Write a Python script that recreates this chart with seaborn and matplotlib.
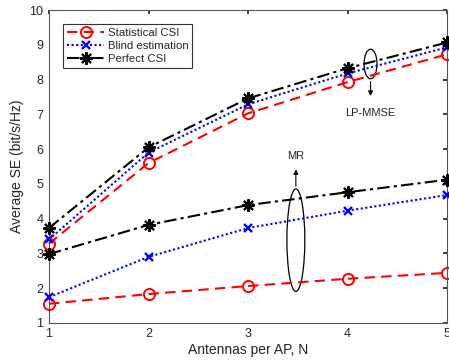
import matplotlib
matplotlib.use("Agg")
import matplotlib.pyplot as plt
import seaborn as sns
import pandas as pd
from matplotlib.patches import Ellipse

sns.set_theme(style="white")
plt.rcParams["font.family"] = ["Liberation Sans", "DejaVu Sans"]

antennas = [1, 2, 3, 4, 5]

# LP-MMSE combining
lp_statistical = [3.28, 5.60, 7.03, 7.93, 8.73]
lp_blind = [3.40, 5.90, 7.29, 8.18, 8.93]
lp_perfect = [3.73, 6.05, 7.46, 8.33, 9.07]

# MR combining
mr_statistical = [1.55, 1.83, 2.06, 2.27, 2.44]
mr_blind = [1.74, 2.90, 3.73, 4.23, 4.68]
mr_perfect = [2.98, 3.82, 4.39, 4.76, 5.12]

labels = ["Statistical CSI", "Blind estimation", "Perfect CSI"]

styles = {
    "Statistical CSI": dict(color="#ff0000", dashes=(5, 3), marker="o",
                            ms=8, mfc="none", mew=1.4),
    "Blind estimation": dict(color="#0000ff", dashes=(1, 1.2), marker="x",
                             ms=6, mfc="#0000ff", mew=1.7),
    "Perfect CSI": dict(color="#000000", dashes=(6, 2, 1.5, 2),
                        marker=(8, 2, 0), ms=9, mfc="#000000", mew=1.5),
}

rows = []
for scheme, vals in [("LP-MMSE", [lp_statistical, lp_blind, lp_perfect]),
                     ("MR", [mr_statistical, mr_blind, mr_perfect])]:
    for lab, series in zip(labels, vals):
        for n, v in zip(antennas, series):
            rows.append(dict(N=n, SE=v, csi=lab, scheme=scheme))
df = pd.DataFrame(rows)

fig = plt.figure(figsize=(4.49, 3.62), dpi=100)
ax = fig.add_axes([0.109, 0.108, 0.887, 0.864])

legend_lines = {}
for scheme in ["LP-MMSE", "MR"]:
    for lab in labels:
        sub = df[(df.scheme == scheme) & (df.csi == lab)]
        st = styles[lab]
        n_before = len(ax.get_lines())
        sns.lineplot(data=sub, x="N", y="SE", ax=ax, color=st["color"],
                     linewidth=1.5, legend=False)
        line = ax.get_lines()[n_before]
        line.set_dashes(st["dashes"])
        line.set_marker(st["marker"])
        line.set_markersize(st["ms"])
        line.set_markerfacecolor(st["mfc"])
        line.set_markeredgecolor(st["color"])
        line.set_markeredgewidth(st["mew"])
        line.set_clip_on(False)
        line.set_zorder(3)
        if scheme == "LP-MMSE":
            line.set_label(lab)
            legend_lines[lab] = line

ax.set_xlim(1, 5)
ax.set_ylim(1, 10)
ax.set_xticks(antennas)
ax.set_yticks(range(1, 11))
ax.set_xlabel("Antennas per AP, N", fontsize=10, color="#262626", labelpad=2)
ax.set_ylabel("Average SE (bit/s/Hz)", fontsize=10, color="#262626", labelpad=4)
ax.tick_params(direction="in", length=3, labelsize=9, colors="#262626",
               top=True, right=True, pad=4)
for sp in ax.spines.values():
    sp.set_color("#555555")
    sp.set_linewidth(0.8)

leg = ax.legend([legend_lines[l] for l in labels], labels, loc="upper left",
                bbox_to_anchor=(0.035, 0.955), fontsize=8.2, frameon=True,
                fancybox=False, edgecolor="black", handlelength=3.3,
                handletextpad=0.3, borderpad=0.35, labelspacing=0.25,
                borderaxespad=0)
leg.get_frame().set_linewidth(0.8)
leg.set_zorder(5)

# group annotations
ax.add_patch(Ellipse((4.23, 8.45), 0.13, 0.85, fill=False, edgecolor="black",
                     linewidth=0.9))
ax.annotate("", xy=(4.23, 7.45), xytext=(4.23, 8.02),
            arrowprops=dict(arrowstyle="-|>", color="black", lw=0.8,
                            mutation_scale=7))
ax.text(4.23, 7.05, "LP-MMSE", ha="center", va="center", fontsize=8,
        color="#262626")

ax.add_patch(Ellipse((3.48, 3.38), 0.18, 2.95, fill=False, edgecolor="black",
                     linewidth=0.9))
ax.annotate("", xy=(3.48, 5.50), xytext=(3.48, 4.85),
            arrowprops=dict(arrowstyle="-|>", color="black", lw=0.8,
                            mutation_scale=7))
ax.text(3.48, 5.80, "MR", ha="center", va="center", fontsize=8,
        color="#262626")

fig.savefig("out.png", dpi=100)
